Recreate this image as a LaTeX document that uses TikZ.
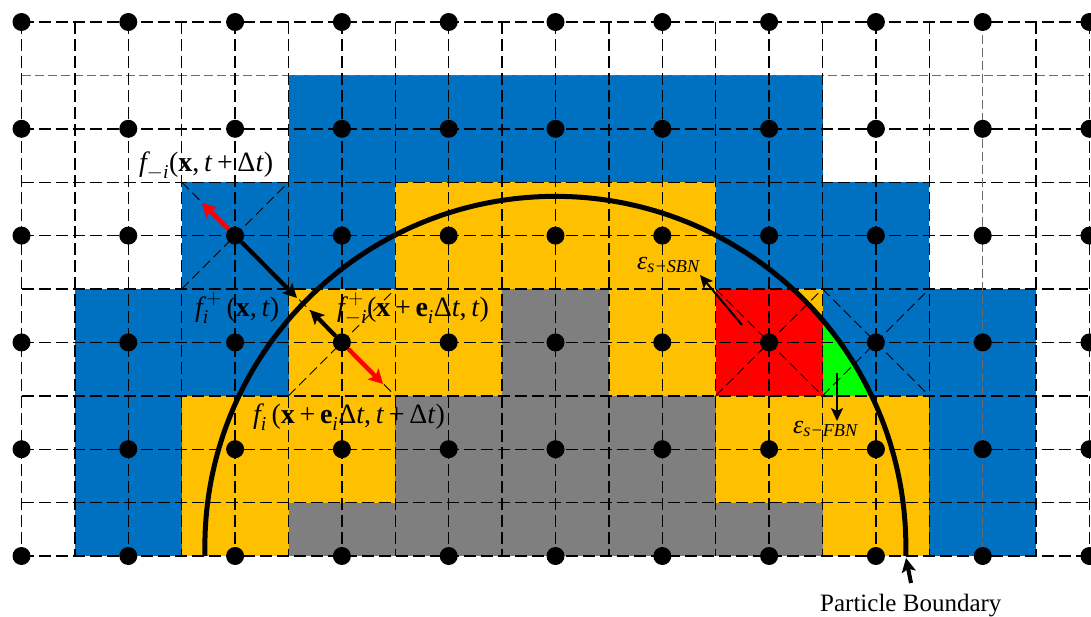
\documentclass[tikz,border=0pt]{standalone}
\usepackage{amsmath}
\usepackage{fontspec}
\setmainfont{Liberation Serif}
\usetikzlibrary{arrows.meta}
\definecolor{cblue}{RGB}{0,112,192}
\definecolor{corange}{RGB}{255,192,0}
\definecolor{cgray}{RGB}{127,127,127}
\definecolor{cred}{RGB}{255,0,0}
\definecolor{cgreen}{RGB}{0,255,0}
\newcommand\iv[1]{\text{\itshape #1}}
\newcommand\tx[1]{\text{#1}}
\tikzset{
  gridline/.style={line width=1.4pt,dash pattern=on 12pt off 5pt,black},
  gridlight/.style={line width=1.3pt,dash pattern=on 9pt off 4pt,black!58},
  diagline/.style={line width=0.9pt,dash pattern=on 10pt off 5pt,black},
  lattice/.style={circle,fill=black,inner sep=0pt,minimum size=18pt},
  blackarrow/.style={line width=4.2pt,-{Stealth[length=14pt,width=14pt,inset=3pt]},black},
  redarrow/.style={line width=4.4pt,-{Stealth[length=14pt,width=15pt,inset=3pt]},cred},
  thinarrow/.style={line width=2pt,-{Stealth[length=13pt,width=12pt,inset=3pt]},black},
  boundary/.style={line width=5pt,black},
  lab/.style={anchor=base west,inner sep=0pt,font=\fontsize{28}{30}\selectfont},
  labsmall/.style={anchor=base west,inner sep=0pt,font=\fontsize{26}{28}\selectfont},
}
\begin{document}
\begin{tikzpicture}[x=1pt,y=-1pt]
\useasboundingbox (0,0) rectangle (1091,616);
\begin{scope}[shift={(21.5,22)},x=53.4pt,y=-53.4pt]
  \fill[cblue] (5,1) rectangle (15,3);
  \fill[cblue] (3,3) rectangle (7,5);
  \fill[corange] (7,3) rectangle (13,5);
  \fill[cblue] (13,3) rectangle (17,5);
  \fill[cblue] (1,5) rectangle (5,7);
  \fill[corange] (5,5) rectangle (9,7);
  \fill[cgray] (9,5) rectangle (11,7);
  \fill[corange] (11,5) rectangle (15,7);
  \fill[cblue] (15,5) rectangle (19,7);
  \fill[cblue] (1,7) rectangle (3,9);
  \fill[corange] (3,7) rectangle (7,9);
  \fill[cgray] (7,7) rectangle (13,9);
  \fill[corange] (13,7) rectangle (17,9);
  \fill[cblue] (17,7) rectangle (19,9);
  \fill[cblue] (1,9) rectangle (3,10);
  \fill[corange] (3,9) rectangle (5,10);
  \fill[cgray] (5,9) rectangle (15,10);
  \fill[corange] (15,9) rectangle (17,10);
  \fill[cblue] (17,9) rectangle (19,10);
\end{scope}
\begin{scope}
  \clip (555.5,546.8) circle (350.5);
  \fill[cred] (716.1,289) rectangle (822.9,395.8);
  \fill[cgreen] (822.9,289) rectangle (929.7,395.8);
\end{scope}
\begin{scope}[shift={(21.5,22)},x=53.4pt,y=-53.4pt]
  \foreach \j in {0,2,3,4,5,6,7,8,9,10} \draw[gridline] (0,\j) -- (20,\j);
  \draw[gridlight] (0,1) -- (20,1);
  \foreach \i in {0,1,2,3,4,5,6,7,8,9,10,11,12,13,14,15,16,17,19,20} \draw[gridline] (\i,0) -- (\i,10);
  \draw[gridlight] (18,0) -- (18,10);
  \foreach \cx/\cy in {4/4,6/6,14/6,16/6} {
    \draw[diagline] (\cx-1,\cy-1) -- (\cx+1,\cy+1);
    \draw[diagline] (\cx-1,\cy+1) -- (\cx+1,\cy-1);
  }
  \foreach \i in {0,2,...,20} \foreach \j in {0,2,...,10}
    \node[lattice] (n\i-\j) at (\i,\j) {};
\end{scope}
\draw[boundary] (205,556) arc[start angle=178.5,end angle=361.5,radius=350.5];
\coordinate (tipA) at (297,298);
\coordinate (tipB) at (310,310);
\coordinate (tipC) at (202,203);
\coordinate (tipD) at (383,384);
\draw[blackarrow] (n4-4) -- (tipA);
\draw[blackarrow] (n6-6) -- (tipB);
\draw[redarrow] (n4-4) -- (tipC);
\draw[redarrow] (n6-6) -- (tipD);
\coordinate (sA) at (742,325);
\coordinate (sB) at (700,275);
\coordinate (fA) at (837,373);
\coordinate (fB) at (837,421);
\draw[thinarrow] (sA) -- (sB);
\draw[thinarrow] (fA) -- (fB);
\node[lab] (l1) at (139,171) {$\iv{f}_{-\iv{i}}\tx{(\textbf{x},\,\textit{t}\,+\,Δ\textit{t})}$};
\node[lab] (l2) at (195,316) {$\iv{f}_{\iv{i}}^{\,+}\tx{\,(\textbf{x},\,\textit{t})}$};
\node[lab] (l3) at (337,316) {$\iv{f}_{-\iv{i}}^{\,+}\tx{(\textbf{x}\,+\,\textbf{e}}_{\iv{i}}\tx{Δ\textit{t},\,\textit{t})}$};
\node[lab] (l4) at (253,423) {$\iv{f}_{\iv{i}}\tx{\,(\textbf{x}\,+\,\textbf{e}}_{\iv{i}}\tx{Δ\textit{t},\,\textit{t}\,+\,Δ\textit{t})}$};
\node[labsmall] (l5) at (637,269) {$\iv{ε}_{\iv{s−SBN}}$};
\node[labsmall] (l6) at (793,433) {$\iv{ε}_{\iv{s−FBN}}$};
\node[anchor=base west,inner sep=0pt,font=\fontsize{25}{27}\selectfont] (pb) at (820,611) {Particle Boundary};
\coordinate (pbT) at (906,558);
\coordinate (pbS) at (911,583);
\draw[line width=4pt,-{Stealth[length=14pt,width=14pt,inset=3pt]},black] (pbS) -- (pbT);
\end{tikzpicture}
\end{document}
